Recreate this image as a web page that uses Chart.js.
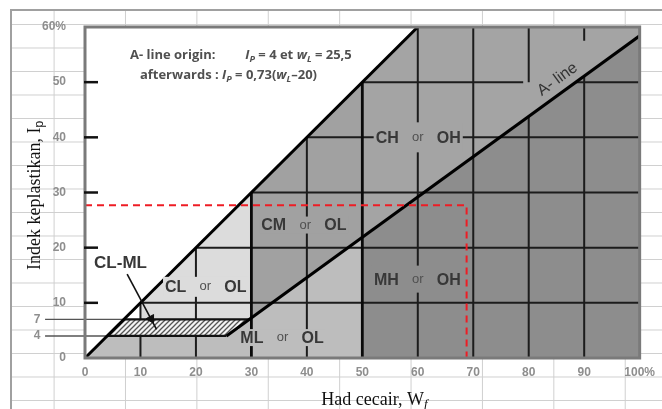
<!DOCTYPE html>
<html>
<head>
<meta charset="utf-8">
<title>Carta keplastikan</title>
<script src="https://cdn.jsdelivr.net/npm/chart.js@4.4.1/dist/chart.umd.min.js"></script>
<style>
  html, body { margin: 0; padding: 0; background: #fff; }
  #page { position: relative; width: 662px; height: 409px; overflow: hidden; }
  #sheet {
    position: absolute; left: 10px; top: 9px; right: 0; bottom: 0;
    border-left: 2px solid #a0a0a0; border-top: 2px solid #a0a0a0;
    background-image:
      linear-gradient(to right, #cfcfcf 1px, transparent 1px),
      linear-gradient(to bottom, #cfcfcf 1px, transparent 1px);
    background-size: 71.4px 100%, 100% 23.5px;
    background-position: 41.6px 0, 0 13px;
  }
  #chart { position: absolute; left: 0; top: 0; }
</style>
</head>
<body>
<div id="page">
  <div id="sheet"></div>
  <canvas id="chart" width="662" height="409"></canvas>
</div>
<script>
// plasticity chart: had cecair (wL) against indek keplastikan (Ip)
const xTicks = [0, 10, 20, 30, 40, 50, 60, 70, 80, 90, 100];
const yTicks = [0, 10, 20, 30, 40, 50, 60];

// boundary lines, [wL, Ip]
const uLine = [[0, 0], [60, 60]];
const aLine = [[25.5, 4], [100, 58.4]];

// zones as polygons, [wL, Ip]
const zoneCL = [[30, 7], [10, 7], [10, 10], [30, 30]];
const zoneML = [[50, 0], [0, 0], [4, 4], [25.5, 4], [50, 21.9]];
const zoneCM = [[50, 21.9], [30, 7.3], [30, 30], [50, 50]];
const zoneCH = [[100, 58.4], [50, 21.9], [50, 50], [60, 60], [100, 60]];
const zoneMH = [[100, 0], [50, 0], [50, 21.9], [100, 58.4]];
const zoneCLML = [[25.5, 4], [4, 4], [7, 7], [29.6, 7]];

// red dashed guide of the sample
const sampleLine = [[0, 27.7], [68.8, 27.7], [68.8, 0]];

// grid inside the shaded part
const gridH = [[10, 10, 100], [20, 20, 100], [30, 30, 100], [40, 40, 100], [50, 50, 79], [50, 88.5, 100]]; // [Ip, wL from, wL to]
const gridV = [[10, 0, 4], [10, 7, 10], [20, 0, 4], [20, 7, 20], [40, 0, 40], [60, 0, 60], [70, 0, 60],
               [80, 0, 43.8], [80, 50, 60], [90, 0, 51.1], [90, 57.5, 60]]; // [wL, Ip from, Ip to]
const zoneEdges = [[30, 0, 30], [50, 0, 50]];

// CL-ML band limits, carried out to the left margin
const bandIp = [7, 4];
const bandStart = -7.2;

const arrowLine = [[7.6, 15.2], [12.9, 5.2]];
const arrowHead = [[11.9, 7.1]];

const zoneLabels = [
  {a: 'CH', b: 'OH', wl: 60, ip: 40, zone: 'CH'},
  {a: 'CM', b: 'OL', wl: 39.7, ip: 24.1, zone: 'CM'},
  {a: 'CL', b: 'OL', wl: 21.7, ip: 12.9, zone: 'CL'},
  {a: 'MH', b: 'OH', wl: 60, ip: 14.3, zone: 'MH'},
  {a: 'ML', b: 'OL', wl: 35.6, ip: 3.7, zone: 'ML'}
];

const shade = {CL: '#dcdcdc', ML: '#bdbdbd', CM: '#a1a1a1', CH: '#a4a4a4', MH: '#8d8d8d'};
const boxH = {CH: 30, MH: 27, CL: 20};

const tickFont = {family: "'Liberation Sans Narrow', 'Liberation Sans', Arial, sans-serif", size: 12, weight: 'bold'};
const tickColor = '#8e8e8e';

function hatch() {
  const c = document.createElement('canvas');
  c.width = 5; c.height = 5;
  const g = c.getContext('2d');
  g.fillStyle = '#f4f4f4';
  g.fillRect(0, 0, 5, 5);
  g.strokeStyle = '#555';
  g.lineWidth = 1.3;
  g.beginPath();
  g.moveTo(-1, 6); g.lineTo(6, -1);
  g.moveTo(-1, 1); g.lineTo(1, -1);
  g.moveTo(4, 6); g.lineTo(6, 4);
  g.stroke();
  return g.createPattern(c, 'repeat');
}

const P = arr => arr.map(p => ({x: p[0], y: p[1]}));
const base = {showLine: true, pointRadius: 0, pointHoverRadius: 0};

function zone(poly, color, order) {
  return {...base, data: P(poly), fill: 'shape', backgroundColor: color,
          borderColor: 'rgba(0,0,0,0)', borderWidth: 0, order: order};
}
function stroke(points, color, width, order, more) {
  return {...base, data: P(points), fill: false, borderColor: color, borderWidth: width, order: order, ...more};
}

const datasets = [
  zone(zoneCL, shade.CL, 9),
  zone(zoneML, shade.ML, 9),
  zone(zoneCM, shade.CM, 9),
  zone(zoneCH, shade.CH, 9),
  zone(zoneMH, shade.MH, 9),
  ...gridH.map(s => stroke([[s[1], s[0]], [s[2], s[0]]], '#1c1c1c', 2, 8)),
  ...gridV.map(s => stroke([[s[0], s[1]], [s[0], s[2]]], '#1c1c1c', 2, 8)),
  ...bandIp.map(v => stroke([[bandStart, v], [v, v]], '#555', 1.4, 8, {clip: false})),
  {...zone(zoneCLML, hatch(), 7), borderColor: '#111', borderWidth: 2.2},
  ...zoneEdges.map(s => stroke([[s[0], s[1]], [s[0], s[2]]], '#0a0a0a', 2.8, 6)),
  stroke(uLine, '#000', 3, 5),
  stroke(aLine, '#000', 3, 5),
  stroke(sampleLine, '#ee1c24', 2, 4, {borderDash: [7, 5]}),
  stroke(arrowLine, '#111', 1.6, 3),
  {data: P(arrowHead), showLine: false, pointStyle: 'triangle', pointRadius: 5, pointRotation: 151,
   backgroundColor: '#111', borderColor: '#111', borderWidth: 1, order: 2}
];

function runs(ctx, parts, x, y, align) {
  let w = 0;
  parts.forEach(p => { ctx.font = p[1]; w += ctx.measureText(p[0]).width; });
  let cx = align === 'center' ? x - w / 2 : x;
  ctx.textAlign = 'left';
  parts.forEach(p => {
    ctx.font = p[1];
    ctx.fillText(p[0], cx, y + (p[2] || 0));
    cx += ctx.measureText(p[0]).width;
  });
}

const drawing = {
  id: 'drawing',
  beforeDatasetsDraw(chart) {
    const {ctx, chartArea: a} = chart;
    ctx.save();
    ctx.fillStyle = '#fff';
    ctx.fillRect(a.left, a.top, a.width, a.height);
    ctx.restore();
  },
  afterDatasetsDraw(chart) {
    const {ctx, chartArea: a, scales: {x, y}} = chart;
    ctx.save();

    // frame
    ctx.strokeStyle = '#7a7a7a';
    ctx.lineWidth = 3;
    ctx.strokeRect(a.left, a.top, a.width, a.height);

    // short ticks inside the left edge
    ctx.strokeStyle = '#111';
    ctx.lineWidth = 2.5;
    yTicks.slice(1, -1).forEach(v => {
      const py = y.getPixelForValue(v);
      ctx.beginPath();
      ctx.moveTo(a.left - 1, py);
      ctx.lineTo(a.left + 13, py);
      ctx.stroke();
    });

    ctx.textBaseline = 'middle';
    ctx.fillStyle = tickColor;
    ctx.font = 'bold 12px ' + tickFont.family;
    ctx.textAlign = 'center';
    bandIp.forEach(v => ctx.fillText(String(v), a.left - 48, y.getPixelForValue(v)));

    // zone labels
    zoneLabels.forEach(l => {
      const cx = x.getPixelForValue(l.wl), cy = y.getPixelForValue(l.ip);
      ctx.font = "bold 16px 'Liberation Sans', Arial, sans-serif";
      const wa = ctx.measureText(l.a).width, wb = ctx.measureText(l.b).width;
      const h = boxH[l.zone] || 17;
      ctx.fillStyle = shade[l.zone];
      ctx.fillRect(cx - 19 - wa - 2, cy - h / 2, wa + wb + 42, h);
      ctx.fillStyle = '#383838';
      ctx.textAlign = 'right';
      ctx.fillText(l.a, cx - 19, cy + 1);
      ctx.textAlign = 'left';
      ctx.fillText(l.b, cx + 19, cy + 1);
      ctx.font = "13px 'Liberation Sans', Arial, sans-serif";
      ctx.fillStyle = '#505050';
      ctx.textAlign = 'center';
      ctx.fillText('or', cx, cy);
    });

    // CL-ML
    ctx.font = "bold 17px 'Liberation Sans', Arial, sans-serif";
    ctx.fillStyle = '#383838';
    ctx.textAlign = 'center';
    ctx.fillText('CL-ML', x.getPixelForValue(6.4), y.getPixelForValue(17.2));

    // A-line origin note
    const F = "bold 13px 'Open Sans', sans-serif";
    const FI = "italic bold 13px 'Open Sans', sans-serif";
    const FS = "italic bold 9px 'Open Sans', sans-serif";
    ctx.fillStyle = '#505050';
    runs(ctx, [['A- line origin:', F]], x.getPixelForValue(8.1), y.getPixelForValue(54.9));
    runs(ctx, [['I', FI], ['P', FS, 4], [' = 4 et ', F], ['w', FI], ['L', FS, 4], [' = 25,5', F]],
         x.getPixelForValue(28.9), y.getPixelForValue(54.9));
    runs(ctx, [['afterwards : ', F], ['I', FI], ['P', FS, 4], [' = 0,73(', F], ['w', FI], ['L', FS, 4], ['\u201320)', F]],
         x.getPixelForValue(9.9), y.getPixelForValue(51.3));

    // A-line label along the line
    const ang = Math.atan2(y.getPixelForValue(aLine[1][1]) - y.getPixelForValue(aLine[0][1]),
                           x.getPixelForValue(aLine[1][0]) - x.getPixelForValue(aLine[0][0]));
    ctx.save();
    ctx.translate(x.getPixelForValue(85.2), y.getPixelForValue(50.5));
    ctx.rotate(ang);
    ctx.font = "16px 'Liberation Sans', Arial, sans-serif";
    ctx.fillStyle = '#333';
    ctx.textAlign = 'center';
    ctx.fillText('A- line', 0, 0);
    ctx.restore();

    // axis titles
    const serif = "18px 'Liberation Serif', 'Times New Roman', serif";
    ctx.fillStyle = '#111';
    ctx.save();
    ctx.translate(a.left - 50, (a.top + a.bottom) / 2 + 3);
    ctx.rotate(-Math.PI / 2);
    runs(ctx, [['Indek keplastikan, I', serif], ['p', "12px 'Liberation Sans', sans-serif", 5]], 0, 0, 'center');
    ctx.restore();
    runs(ctx, [['Had cecair, W', serif], ['f', "italic 13px 'Liberation Serif', serif", 5]],
         x.getPixelForValue(52.2), a.bottom + 42, 'center');

    ctx.restore();
  }
};

new Chart(document.getElementById('chart'), {
  type: 'scatter',
  data: {datasets: datasets},
  options: {
    responsive: false,
    animation: false,
    devicePixelRatio: 1,
    events: [],
    layout: {padding: {left: 10, right: 22, top: 27, bottom: 21}},
    plugins: {legend: {display: false}, tooltip: {enabled: false}},
    scales: {
      x: {
        type: 'linear', min: 0, max: 100,
        afterFit: s => { s.height = 30; },
        afterBuildTicks: s => { s.ticks = xTicks.map(v => ({value: v})); },
        grid: {display: false, drawTicks: false},
        border: {display: false},
        ticks: {padding: 7, color: tickColor, font: tickFont, maxRotation: 0, autoSkip: false,
                callback: v => v === 100 ? '100%' : v}
      },
      y: {
        type: 'linear', min: 0, max: 60,
        afterFit: s => { s.width = 75; },
        afterBuildTicks: s => { s.ticks = yTicks.map(v => ({value: v})); },
        grid: {display: false, drawTicks: false},
        border: {display: false},
        ticks: {padding: 19, color: tickColor, font: tickFont, autoSkip: false,
                callback: v => v === 60 ? '60%' : v}
      }
    }
  },
  plugins: [drawing]
});
</script>
</body>
</html>
